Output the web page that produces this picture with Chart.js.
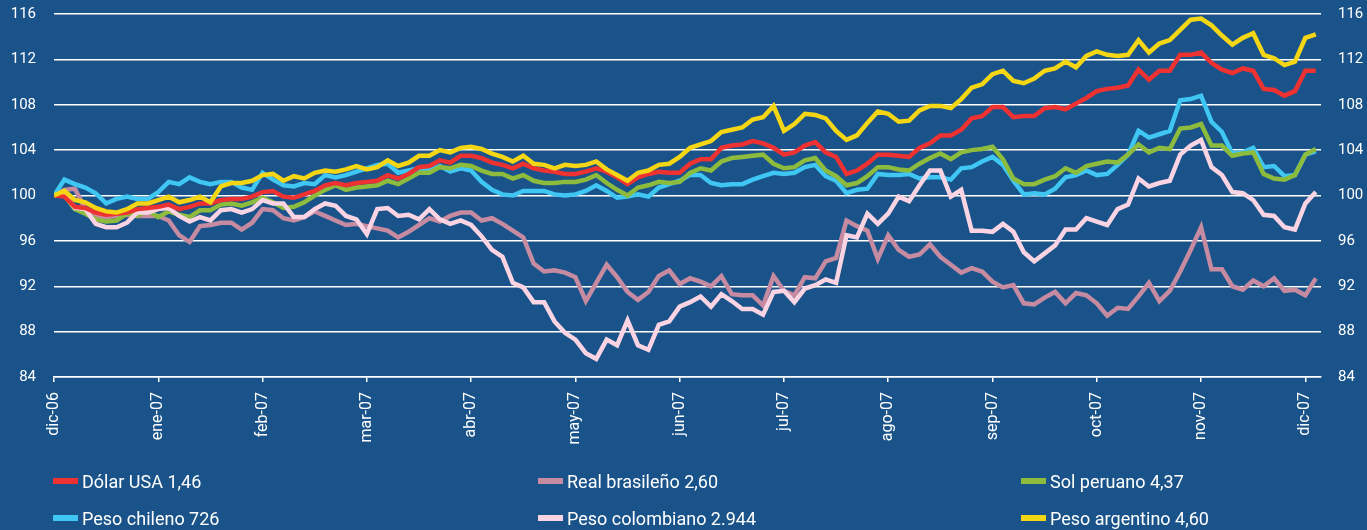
<!DOCTYPE html>
<html>
<head>
<meta charset="utf-8">
<script src="https://cdn.jsdelivr.net/npm/chart.js@4/dist/chart.umd.min.js"></script>
<style>
  html, body { margin: 0; padding: 0; background: #1a5389; }
  #wrap { position: relative; width: 1367px; height: 530px; }
  #chart { position: absolute; left: 0; top: 0; }
  #legend {
    position: absolute; left: 53px; top: 470px;
    display: grid; grid-template-columns: 485px 483px 300px; grid-auto-rows: 37px;
    font-family: Roboto, "DejaVu Sans", sans-serif; font-size: 18px; color: #fff;
  }
  .item { display: flex; align-items: center; height: 22px; white-space: nowrap; }
  .sw { display: inline-block; width: 25px; height: 6px; margin-right: 4px; }
</style>
</head>
<body>
<div id="wrap">
  <canvas id="chart" width="1367" height="530"></canvas>
  <div id="legend"></div>
</div>
<script>
/* Tipos de cambio, índice dic-06 = 100 (una lectura cada ~2 días hábiles) */

const monthLabels = ['dic-06','ene-07','feb-07','mar-07','abr-07','may-07','jun-07',
                     'jul-07','ago-07','sep-07','oct-07','nov-07','dic-07'];
const readingsPerMonth = 10;
const yTicks = { min: 84, max: 116, step: 4 };

const usd = [100.0, 99.9, 99.0, 98.9, 98.5, 98.3, 98.4, 98.5, 98.8, 98.9,
  99.0, 99.2, 98.8, 99.0, 99.3, 99.3, 99.6, 99.7, 99.7, 99.9,
  100.3, 100.4, 99.9, 99.8, 100.1, 100.4, 100.9, 101.1, 100.9, 101.1,
  101.2, 101.3, 101.8, 101.5, 101.9, 102.5, 102.6, 103.1, 102.9, 103.5,
  103.5, 103.3, 102.9, 102.7, 102.4, 102.8, 102.4, 102.2, 102.1, 101.9,
  101.9, 102.1, 102.4, 102.1, 101.6, 101.0, 101.6, 101.9, 102.1, 102.0,
  102.0, 102.8, 103.2, 103.2, 104.2, 104.4, 104.5, 104.8, 104.6, 104.2,
  103.6, 103.8, 104.4, 104.7, 103.8, 103.4, 101.9, 102.2, 102.8, 103.6,
  103.6, 103.5, 103.4, 104.2, 104.6, 105.3, 105.3, 105.8, 106.8, 107.0,
  107.8, 107.8, 106.9, 107.0, 107.0, 107.7, 107.8, 107.6, 108.1, 108.6,
  109.2, 109.4, 109.5, 109.7, 111.1, 110.2, 111.0, 111.0, 112.4, 112.4,
  112.6, 111.7, 111.1, 110.8, 111.2, 111.0, 109.4, 109.3, 108.8, 109.2,
  111.0, 111.0];

const brl = [100.0, 100.5, 100.6, 98.8, 98.1, 98.1, 98.2, 98.3, 98.2, 98.2,
  98.2, 97.8, 96.5, 95.9, 97.3, 97.4, 97.6, 97.6, 97.0, 97.6,
  98.8, 98.7, 98.0, 97.8, 98.1, 98.6, 98.2, 97.8, 97.4, 97.5,
  97.3, 97.1, 96.9, 96.3, 96.8, 97.4, 98.0, 97.7, 98.2, 98.5,
  98.5, 97.8, 98.0, 97.5, 96.9, 96.3, 94.0, 93.3, 93.4, 93.2,
  92.8, 90.7, 92.3, 93.9, 92.8, 91.5, 90.8, 91.5, 92.9, 93.4,
  92.2, 92.7, 92.4, 92.0, 92.9, 91.3, 91.2, 91.2, 90.3, 92.9,
  91.6, 91.2, 92.8, 92.7, 94.2, 94.5, 97.8, 97.3, 96.9, 94.4,
  96.5, 95.2, 94.6, 94.8, 95.7, 94.6, 93.9, 93.2, 93.6, 93.3,
  92.4, 91.9, 92.1, 90.5, 90.4, 91.0, 91.5, 90.5, 91.4, 91.2,
  90.5, 89.4, 90.1, 90.0, 91.1, 92.3, 90.7, 91.6, 93.3, 95.2,
  97.2, 93.5, 93.5, 92.0, 91.7, 92.5, 92.0, 92.7, 91.6, 91.7,
  91.2, 92.7];

const pen = [100.0, 100.0, 98.8, 98.4, 97.9, 97.7, 97.8, 98.4, 98.2, 98.7,
  98.1, 98.6, 98.3, 98.1, 98.7, 98.7, 99.2, 99.3, 99.1, 99.4,
  99.8, 99.4, 98.9, 99.0, 99.4, 100.0, 100.5, 100.9, 100.5, 100.7,
  100.8, 100.9, 101.3, 101.0, 101.5, 102.0, 102.0, 102.5, 102.4, 102.7,
  102.6, 102.2, 101.9, 101.9, 101.5, 101.8, 101.3, 101.1, 101.1, 101.2,
  101.2, 101.4, 101.8, 101.1, 100.5, 100.0, 100.7, 100.9, 101.2, 101.1,
  101.2, 102.0, 102.4, 102.2, 103.0, 103.3, 103.4, 103.5, 103.6, 102.8,
  102.4, 102.5, 103.1, 103.3, 102.2, 101.7, 100.9, 101.1, 101.7, 102.5,
  102.5, 102.3, 102.2, 102.8, 103.3, 103.7, 103.2, 103.8, 104.0, 104.1,
  104.3, 103.2, 101.5, 101.0, 101.0, 101.4, 101.7, 102.4, 102.0, 102.6,
  102.8, 103.0, 102.9, 103.6, 104.5, 103.8, 104.2, 104.1, 105.9, 106.0,
  106.3, 104.4, 104.4, 103.5, 103.7, 103.8, 101.9, 101.5, 101.4, 101.8,
  103.6, 104.1];

const clp = [100.0, 101.4, 101.0, 100.7, 100.2, 99.3, 99.7, 99.9, 99.7, 99.7,
  100.3, 101.2, 101.0, 101.6, 101.2, 101.0, 101.2, 101.2, 100.7, 100.5,
  102.0, 101.4, 100.9, 100.8, 101.1, 101.0, 101.8, 101.6, 101.8, 102.1,
  102.4, 102.7, 102.8, 102.0, 102.2, 102.4, 102.2, 102.6, 102.1, 102.4,
  102.2, 101.2, 100.5, 100.1, 100.0, 100.4, 100.4, 100.4, 100.1, 100.0,
  100.1, 100.4, 100.9, 100.4, 99.8, 99.9, 100.1, 99.9, 100.7, 101.0,
  101.3, 101.8, 101.8, 101.1, 100.9, 101.0, 101.0, 101.4, 101.7, 102.0,
  101.9, 102.0, 102.5, 102.7, 101.7, 101.3, 100.2, 100.5, 100.6, 101.9,
  101.8, 101.8, 101.9, 101.5, 101.6, 101.6, 101.4, 102.4, 102.5, 103.0,
  103.4, 102.7, 101.3, 100.1, 100.2, 100.1, 100.6, 101.6, 101.8, 102.2,
  101.8, 101.9, 102.7, 103.6, 105.7, 105.1, 105.4, 105.7, 108.4, 108.5,
  108.8, 106.5, 105.6, 103.7, 103.8, 104.2, 102.5, 102.6, 101.7, 101.8,
  103.6, 103.9];

const cop = [100.0, 100.1, 98.9, 98.8, 97.5, 97.2, 97.2, 97.6, 98.5, 98.5,
  98.8, 98.9, 98.2, 97.7, 98.1, 97.8, 98.7, 98.8, 98.5, 98.8,
  99.6, 99.3, 99.3, 98.1, 98.1, 98.8, 99.3, 99.1, 98.2, 97.9,
  96.6, 98.8, 98.9, 98.2, 98.3, 97.9, 98.8, 97.9, 97.5, 97.8,
  97.4, 96.4, 95.2, 94.6, 92.3, 91.9, 90.6, 90.6, 88.9, 87.9,
  87.3, 86.1, 85.6, 87.3, 86.8, 89.0, 86.8, 86.4, 88.6, 88.9,
  90.2, 90.6, 91.1, 90.2, 91.3, 90.7, 90.0, 90.0, 89.5, 91.5,
  91.6, 90.6, 91.8, 92.1, 92.6, 92.3, 96.5, 96.3, 98.4, 97.5,
  98.4, 99.9, 99.5, 100.9, 102.2, 102.2, 99.9, 100.5, 96.9, 96.9,
  96.8, 97.5, 96.8, 95.0, 94.2, 94.9, 95.6, 97.0, 97.0, 98.0,
  97.7, 97.4, 98.8, 99.2, 101.5, 100.8, 101.1, 101.3, 103.6, 104.4,
  104.9, 102.5, 101.8, 100.3, 100.2, 99.6, 98.3, 98.2, 97.2, 97.0,
  99.3, 100.3];

const ars = [100.0, 100.4, 99.6, 99.4, 98.9, 98.6, 98.5, 98.8, 99.3, 99.3,
  99.6, 99.9, 99.4, 99.6, 99.9, 99.4, 100.8, 101.1, 101.1, 101.3,
  101.8, 101.9, 101.3, 101.7, 101.5, 102.0, 102.2, 102.1, 102.3, 102.6,
  102.3, 102.5, 103.1, 102.6, 102.9, 103.5, 103.5, 104.0, 103.8, 104.2,
  104.3, 104.1, 103.7, 103.4, 103.0, 103.5, 102.8, 102.7, 102.4, 102.7,
  102.6, 102.7, 103.0, 102.3, 101.8, 101.3, 102.0, 102.2, 102.7, 102.8,
  103.4, 104.2, 104.5, 104.8, 105.6, 105.8, 106.0, 106.7, 106.9, 107.9,
  105.7, 106.3, 107.2, 107.1, 106.8, 105.7, 104.9, 105.3, 106.4, 107.4,
  107.2, 106.5, 106.6, 107.5, 107.9, 107.9, 107.7, 108.5, 109.5, 109.8,
  110.7, 111.0, 110.1, 109.9, 110.3, 111.0, 111.2, 111.8, 111.3, 112.3,
  112.7, 112.4, 112.3, 112.4, 113.7, 112.6, 113.4, 113.7, 114.6, 115.5,
  115.6, 115.0, 114.1, 113.3, 113.9, 114.3, 112.4, 112.1, 111.5, 111.8,
  113.9, 114.2];

const series = [
  { label: 'Dólar USA 1,46',          data: usd, color: '#ee3131', order: 1 },
  { label: 'Real brasileño 2,60',     data: brl, color: '#c68ba1', order: 5 },
  { label: 'Sol peruano 4,37',        data: pen, color: '#8cbb3d', order: 3 },
  { label: 'Peso chileno 726',        data: clp, color: '#3fc6f2', order: 4 },
  { label: 'Peso colombiano 2.944',   data: cop, color: '#fbd4e4', order: 2 },
  { label: 'Peso argentino 4,60',     data: ars, color: '#f4d615', order: 0 }
];

const readingIdx = usd.map((_, i) => i);
const tickFont = { family: 'Roboto, "DejaVu Sans", sans-serif', size: 15 };

// ancho fijo de los ejes y, y que el padding de las etiquetas no empuje el área hacia abajo
const fixY = w => s => { s.width = w; s.paddingTop = 14; s.paddingBottom = 0; };

new Chart(document.getElementById('chart'), {
  type: 'line',
  data: {
    labels: readingIdx,
    datasets: series.map(s => ({
      label: s.label, data: s.data, order: s.order,
      borderColor: s.color, backgroundColor: s.color,
      borderWidth: 4.5, pointRadius: 0, tension: 0, yAxisID: 'y'
    }))
  },
  options: {
    responsive: false, animation: false,
    layout: { padding: 0 },
    plugins: { legend: { display: false }, tooltip: { enabled: false } },
    scales: {
      x: {
        type: 'linear', min: 0, max: 121.5,
        afterBuildTicks: s => { s.ticks = monthLabels.map((_, k) => ({ value: k * readingsPerMonth })); },
        afterFit: s => { s.height = 153; },
        ticks: {
          autoSkip: false, minRotation: 90, maxRotation: 90, padding: 10,
          color: '#fff', font: { family: tickFont.family, size: 16 },
          callback: v => monthLabels[Math.round(v / readingsPerMonth)]
        },
        grid: { display: true, drawOnChartArea: false, drawTicks: true, tickLength: 5, color: '#fff', lineWidth: 1.5 },
        border: { display: true, color: '#fff', width: 1.5 }
      },
      y: {
        position: 'left', min: yTicks.min, max: yTicks.max,
        afterFit: fixY(54),
        ticks: { stepSize: yTicks.step, padding: 18, color: '#fff', font: tickFont },
        grid: { color: '#fff', lineWidth: 1.5, drawTicks: false },
        border: { display: false }
      },
      y2: {
        position: 'right', min: yTicks.min, max: yTicks.max,
        afterFit: fixY(46),
        ticks: { stepSize: yTicks.step, padding: 17, color: '#fff', font: tickFont },
        grid: { display: false, drawTicks: false },
        border: { display: false }
      }
    }
  }
});

// leyenda abajo, 3 columnas
const legend = document.getElementById('legend');
series.forEach(s => {
  legend.innerHTML += `<div class="item"><span class="sw" style="background:${s.color}"></span>${s.label}</div>`;
});
</script>
</body>
</html>
